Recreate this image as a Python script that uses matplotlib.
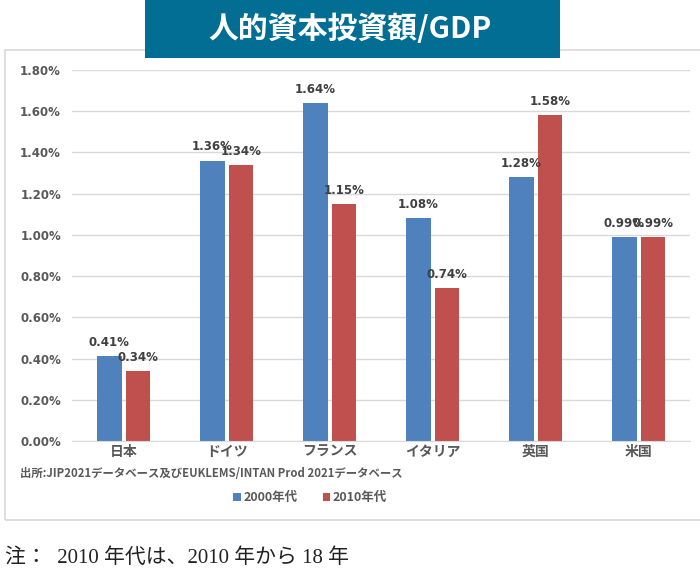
import numpy as np
import matplotlib
matplotlib.use("Agg")
from matplotlib import pyplot as plt
from matplotlib.patches import Rectangle

plt.rcParams['font.family'] = ['Noto Sans CJK JP', 'DejaVu Sans']

# data
countries = ["日本", "ドイツ", "フランス", "イタリア", "英国", "米国"]
v2000 = [0.41, 1.36, 1.64, 1.08, 1.28, 0.99]
v2010 = [0.34, 1.34, 1.15, 0.74, 1.58, 0.99]
series_names = ["2000年代", "2010年代"]
yticks = [0.0, 0.2, 0.4, 0.6, 0.8, 1.0, 1.2, 1.4, 1.6, 1.8]

blue = "#4F81BD"
red = "#C0504D"
txt = "#404040"

fig = plt.figure(figsize=(7, 5.71), dpi=100)

# outer frame
fig.patches.append(Rectangle((0.007, 0.089), 1.0, 0.823, transform=fig.transFigure,
                             fill=False, edgecolor="#D9D9D9", linewidth=1.2))
# title box
fig.patches.append(Rectangle((0.207, 0.898), 0.593, 0.102, transform=fig.transFigure,
                             facecolor="#026E94", edgecolor="none"))
fig.text(0.5, 0.949, "人的資本投資額/GDP", color="white", fontsize=21.5,
         fontweight="bold", ha="center", va="center")

ax = fig.add_axes([0.103, 0.2277, 0.883, 0.6497])
x = np.arange(len(countries))
w = 0.24
b1 = ax.bar(x - 0.14, v2000, w, color=blue, label=series_names[0])
b2 = ax.bar(x + 0.14, v2010, w, color=red, label=series_names[1])

for bars, vals in [(b1, v2000), (b2, v2010)]:
    for r, v in zip(bars, vals):
        ax.text(r.get_x() + r.get_width() / 2, v + 0.035, f"{v:.2f}%",
                ha="center", va="bottom", fontsize=8.5, fontweight="bold",
                color=txt, family=['DejaVu Sans'])

ax.set_xlim(-0.5, 5.5)
ax.set_ylim(0, 1.8)
ax.set_yticks(yticks)
ax.set_yticklabels([f"{t:.2f}%" for t in yticks], fontsize=8.5, fontweight="bold",
                   color="#595959", family=['DejaVu Sans'])
ax.set_xticks(x)
ax.set_xticklabels(countries, fontsize=10, fontweight="bold", color="#595959")
ax.tick_params(axis="both", length=0, pad=8)
ax.tick_params(axis="x", pad=3)
ax.yaxis.grid(True, color="#D9D9D9", linewidth=1)
ax.set_axisbelow(True)
for s in ["top", "right", "left"]:
    ax.spines[s].set_visible(False)
ax.spines["bottom"].set_color("#D9D9D9")

fig.text(0.302, 0.17, "出所:JIP2021データベース及びEUKLEMS/INTAN Prod 2021データベース",
         fontsize=8.2, fontweight="bold", color="#595959", ha="center", va="center")

fig.legend(handles=[b1, b2], loc="center", bbox_to_anchor=(0.443, 0.128), ncol=2,
           frameon=False, handlelength=0.6, handleheight=0.6,
           handletextpad=0.2, columnspacing=2.0,
           prop={'weight': 'bold', 'size': 9})
for t in fig.legends[0].get_texts():
    t.set_color("#595959")

fig.text(0.007, 0.023, "注：  2010 年代は、2010 年から 18 年", fontsize=15,
         color="#222222", ha="left", va="center",
         family=['Liberation Serif', 'Noto Sans CJK JP'])

fig.savefig("out.png", dpi=100)
